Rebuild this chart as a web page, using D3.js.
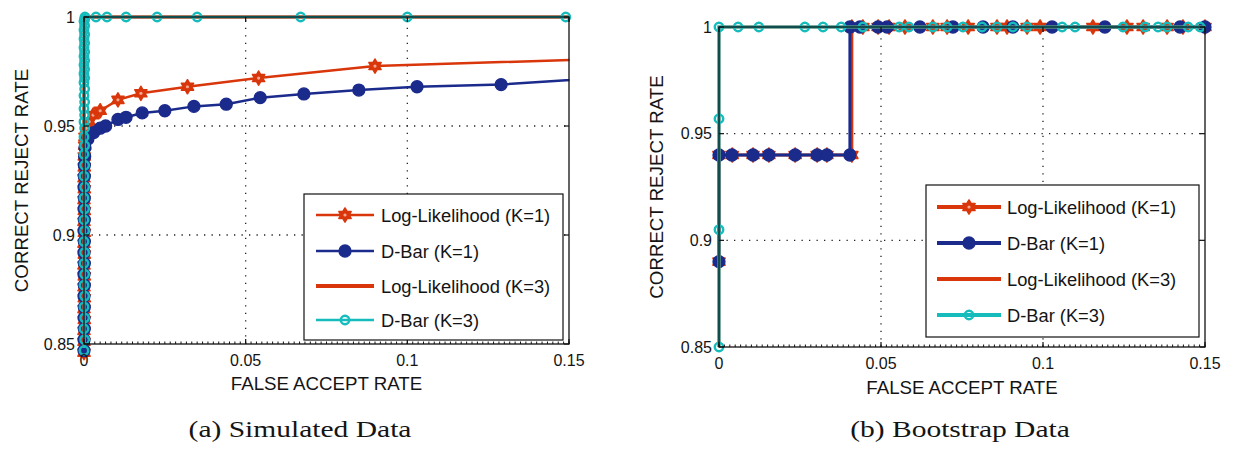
<!DOCTYPE html>
<html><head><meta charset="utf-8">
<script src="https://cdn.jsdelivr.net/npm/d3@7"></script>
<style>
html,body{margin:0;padding:0;background:#fff;}
svg{display:block;}
text{font-family:"Liberation Sans",Arial,sans-serif;fill:#141414;}
</style></head><body>
<svg id="fig" width="1238" height="457"></svg>
<script>
// ---------- values ----------
const xTicks = [0, 0.05, 0.1, 0.15];
const yTicks = [0.85, 0.9, 0.95, 1];
const xTickLabels = ["0", "0.05", "0.1", "0.15"];
const yTickLabels = ["0.85", "0.9", "0.95", "1"];
const seriesNames = ["Log-Likelihood (K=1)", "D-Bar (K=1)", "Log-Likelihood (K=3)", "D-Bar (K=3)"];
const captions = ["(a) Simulated Data", "(b) Bootstrap Data"];
const xTitle = "FALSE ACCEPT RATE";
const yTitle = "CORRECT REJECT RATE";

// (a) simulated data: [false accept rate, correct reject rate]
const simLL1 = [[0,0.846],[0,0.851],[0,0.856],[0.0001,0.861],[0,0.866],[0.0001,0.871],[0,0.876],[0.0001,0.881],
  [0,0.886],[0.0001,0.891],[0,0.896],[0.0001,0.901],[0,0.906],[0.0001,0.911],[0,0.916],[0.0001,0.921],[0,0.926],
  [0.0001,0.931],[0.0001,0.936],[0.0002,0.941],[0.0003,0.945],[0.0008,0.949],[0.0016,0.952],[0.0028,0.955],
  [0.005,0.957],[0.0105,0.962],[0.0176,0.965],[0.032,0.968],[0.054,0.972],[0.090,0.9775],[0.17,0.9812]];
const simDB1 = [[0,0.847],[0,0.852],[0.0001,0.857],[0,0.862],[0.0001,0.867],[0,0.872],[0.0001,0.877],[0,0.882],
  [0.0001,0.887],[0,0.892],[0.0001,0.897],[0,0.902],[0.0001,0.907],[0,0.912],[0.0001,0.917],[0,0.922],
  [0.0001,0.927],[0.0001,0.932],[0.0002,0.936],[0.0003,0.940],[0.0012,0.944],[0.003,0.947],[0.005,0.949],
  [0.0067,0.950],[0.0105,0.953],[0.013,0.954],[0.018,0.956],[0.025,0.957],[0.034,0.959],[0.044,0.960],
  [0.0545,0.963],[0.068,0.9647],[0.085,0.9665],[0.103,0.968],[0.129,0.969],[0.165,0.9726]];
const simLL3 = [[0,0.84],[0,0.9],[0,0.96],[0.0001,1],[0.16,1]];
const simDB3 = [[0,0.847],[0.0002,0.852],[0,0.857],[0.0002,0.862],[0,0.867],[0.0002,0.872],[0,0.877],[0.0002,0.882],
  [0,0.887],[0.0002,0.892],[0,0.897],[0.0002,0.902],[0,0.907],[0.0002,0.912],[0,0.917],[0.0002,0.922],[0,0.927],
  [0.0002,0.932],[0,0.937],[0.0002,0.941],[0,0.945],[0.0002,0.949],[0,0.952],[0.0002,0.955],[0,0.958],
  [0.0002,0.961],[0,0.964],[0.0002,0.967],[0,0.970],[0.0002,0.972],[0,0.974],[0.0002,0.976],[0,0.978],
  [0.0002,0.980],[0,0.982],[0.0002,0.984],[0,0.986],[0.0002,0.988],[0,0.990],[0.0002,0.992],[0,0.994],
  [0.0002,0.996],[0,0.998],[0.0002,0.999],[0.0003,1],[0.0037,1],[0.0071,1],[0.013,1],[0.0226,1],[0.035,1],
  [0.067,1],[0.100,1],[0.149,1],[0.16,1]];

// (b) bootstrap data
const bootLL1 = [[0,0.89],[0,0.94],[0.0041,0.94],[0.0105,0.94],[0.0154,0.94],[0.0235,0.94],[0.0303,0.94],
  [0.0333,0.94],[0.041,0.94],[0.041,1],[0.0444,1],[0.0491,1],[0.0525,1],[0.0574,1],[0.066,1],[0.0704,1],
  [0.0769,1],[0.0858,1],[0.0889,1],[0.0951,1],[0.0991,1],[0.1154,1],[0.1259,1],[0.1309,1],[0.1383,1],
  [0.1432,1],[0.15,1]];
const bootDB1 = [[0,0.89],[0,0.94],[0.004,0.94],[0.0105,0.94],[0.0154,0.94],[0.0235,0.94],[0.0303,0.94],
  [0.0333,0.94],[0.0404,0.94],[0.0404,1],[0.0435,1],[0.0491,1],[0.0519,1],[0.062,1],[0.0722,1],[0.0815,1],
  [0.0907,1],[0.1028,1],[0.1191,1],[0.1423,1],[0.15,1]];
const bootLL3 = [[0,0.85],[0,0.95],[0,1],[0.16,1]];
const bootDB3 = [[0,0.85],[0,0.905],[0,0.957],[0,1],[0.0059,1],[0.0123,1],[0.0265,1],[0.0321,1],[0.0377,1],
  [0.0444,1],[0.0556,1],[0.0586,1],[0.066,1],[0.0704,1],[0.0753,1],[0.0812,1],[0.0858,1],[0.0907,1],
  [0.0951,1],[0.1059,1],[0.1099,1],[0.1247,1],[0.1315,1],[0.1355,1],[0.1383,1],[0.1448,1],[0.1485,1],[0.16,1]];

// ---------- styling ----------
const RED = "#d9360b", BLUE = "#1b2b8c", CYAN = "#16bcbc";
const seriesStyle = [
  {color: RED,  marker: "hex"},
  {color: BLUE, marker: "dot"},
  {color: RED,  marker: null},
  {color: CYAN, marker: "ring"}
];

const panels = [
  {data: [simLL1, simDB1, simLL3, simDB3], xr: [84, 569], yr: [344, 17], lw: [2.5, 2.5, 3.5, 2.5],
   legend: {x: 304, y: 194, w: 259, h: 146, rows: [215, 251, 286, 320], l0: 316, l1: 374, tx: 381, lw: [2.7, 2.7, 4, 2.7]},
   yTitleX: 21, xTitleY: 390, xTickY: 366, yTickX: 75, capX: 300},
  {data: [bootLL1, bootDB1, bootLL3, bootDB3], xr: [719, 1205], yr: [347, 27], lw: [3, 3, 3, 3],
   legend: {x: 926, y: 185, w: 273, h: 152, rows: [207, 243, 279, 315], l0: 937, l1: 1001, tx: 1007, lw: [4, 4, 4, 4]},
   yTitleX: 656, xTitleY: 394, xTickY: 369, yTickX: 712, capX: 960}
];

const svg = d3.select("#fig");

function hexagramPath(R) {
  const r = R / Math.sqrt(3), pts = [];
  for (let k = 0; k < 12; k++) {
    const a = (-90 + k * 30) * Math.PI / 180, rad = k % 2 === 0 ? R : r;
    pts.push([rad * Math.cos(a), rad * Math.sin(a)]);
  }
  return "M" + pts.map(p => p[0].toFixed(2) + "," + p[1].toFixed(2)).join("L") + "Z";
}
const HEX = hexagramPath(7);

function drawMarker(g, kind, color, x, y) {
  if (kind === "hex") {
    g.append("path").attr("d", HEX).attr("transform", `translate(${x},${y})`)
      .attr("fill", color).attr("stroke", color).attr("stroke-width", 1.6).attr("stroke-linejoin", "round");
    g.append("circle").attr("cx", x).attr("cy", y).attr("r", 1.6).attr("fill", "#f1a78d");
  } else if (kind === "dot") {
    g.append("circle").attr("cx", x).attr("cy", y).attr("r", 6)
      .attr("fill", color).attr("stroke", color).attr("stroke-width", 1.3);
  } else if (kind === "ring") {
    g.append("circle").attr("cx", x).attr("cy", y).attr("r", 4.2)
      .attr("fill", "none").attr("stroke", color).attr("stroke-width", 2.5);
  }
}

panels.forEach((p, pi) => {
  const x = d3.scaleLinear().domain([0, 0.15]).range(p.xr);
  const y = d3.scaleLinear().domain([0.85, 1]).range(p.yr);
  const g = svg.append("g");
  const [L, R] = p.xr, [B, T] = p.yr;

  // background
  g.append("rect").attr("x", L).attr("y", T).attr("width", R - L).attr("height", B - T).attr("fill", "#fff");

  // dotted grid
  const grid = g.append("g").attr("stroke", "#222").attr("stroke-width", 1.3).attr("stroke-dasharray", "1.3,6.2");
  xTicks.filter(v => v > 0 && v < 0.15).forEach(v =>
    grid.append("line").attr("x1", x(v)).attr("x2", x(v)).attr("y1", B).attr("y2", T));
  yTicks.filter(v => v > 0.85 && v < 1).forEach(v =>
    grid.append("line").attr("x1", L).attr("x2", R).attr("y1", y(v)).attr("y2", y(v)));

  // line clipping region
  const cid = "clip" + pi;
  svg.append("clipPath").attr("id", cid).append("rect")
    .attr("x", L - 4).attr("y", T - 4).attr("width", R - L + 4.5).attr("height", B - T + 8);

  const lineGen = d3.line().x(d => x(d[0])).y(d => y(d[1]));
  p.data.forEach((series, si) => {
    const st = seriesStyle[si];
    g.append("path").attr("d", lineGen(series)).attr("fill", "none")
      .attr("stroke", st.color).attr("stroke-width", p.lw[si])
      .attr("stroke-linejoin", "miter").attr("clip-path", `url(#${cid})`);
    if (st.marker) {
      const mg = g.append("g");
      series.filter(d => d[0] >= 0 && d[0] <= 0.15 && d[1] >= 0.845 && d[1] <= 1)
        .forEach(d => drawMarker(mg, st.marker, st.color, x(d[0]), y(d[1])));
    }
  });

  // axes box, ticks
  const ax = g.append("g").attr("stroke", "#111").attr("fill", "none");
  ax.append("rect").attr("x", L).attr("y", T).attr("width", R - L).attr("height", B - T).attr("stroke-width", 1.3);
  xTicks.forEach(v => {
    ax.append("line").attr("x1", x(v)).attr("x2", x(v)).attr("y1", B).attr("y2", B - 5).attr("stroke-width", 1.2);
    ax.append("line").attr("x1", x(v)).attr("x2", x(v)).attr("y1", T).attr("y2", T + 5).attr("stroke-width", 1.2);
  });
  yTicks.forEach(v => {
    ax.append("line").attr("x1", L).attr("x2", L + 5).attr("y1", y(v)).attr("y2", y(v)).attr("stroke-width", 1.2);
    ax.append("line").attr("x1", R).attr("x2", R - 5).attr("y1", y(v)).attr("y2", y(v)).attr("stroke-width", 1.2);
  });
  // minor ticks along the bottom edge
  d3.range(0, 0.15 + 1e-9, 0.05 / 30).forEach(v =>
    ax.append("line").attr("x1", x(v)).attr("x2", x(v)).attr("y1", B).attr("y2", B - 2.5).attr("stroke-width", 1));

  // tick labels
  xTicks.forEach((v, i) =>
    g.append("text").attr("x", x(v)).attr("y", p.xTickY).attr("text-anchor", "middle")
      .attr("font-size", 16).text(xTickLabels[i]));
  yTicks.forEach((v, i) =>
    g.append("text").attr("x", p.yTickX).attr("y", y(v)).attr("dy", "0.36em").attr("text-anchor", "end")
      .attr("font-size", 16).text(yTickLabels[i]));

  // axis titles
  g.append("text").attr("x", (L + R) / 2).attr("y", p.xTitleY).attr("text-anchor", "middle")
    .attr("font-size", 18.7).text(xTitle);
  g.append("text").attr("transform", `translate(${p.yTitleX},${(T + B) / 2}) rotate(-90)`)
    .attr("text-anchor", "middle").attr("dy", "0.36em").attr("font-size", 18.7).text(yTitle);

  // legend
  const lg = p.legend, leg = g.append("g");
  leg.append("rect").attr("x", lg.x).attr("y", lg.y).attr("width", lg.w).attr("height", lg.h)
    .attr("fill", "#fff").attr("stroke", "#111").attr("stroke-width", 1.2);
  seriesNames.forEach((name, si) => {
    const st = seriesStyle[si], ry = lg.rows[si];
    leg.append("line").attr("x1", lg.l0).attr("x2", lg.l1).attr("y1", ry).attr("y2", ry)
      .attr("stroke", st.color).attr("stroke-width", lg.lw[si]);
    if (st.marker) drawMarker(leg, st.marker, st.color, (lg.l0 + lg.l1) / 2, ry);
    leg.append("text").attr("x", lg.tx).attr("y", ry).attr("dy", "0.36em").attr("font-size", 18.3).text(name);
  });

  // caption
  g.append("text").attr("transform", `translate(${p.capX},437) scale(1.23,1)`).attr("text-anchor", "middle")
    .style("font-family", '"Liberation Serif","Times New Roman",serif').attr("font-size", 24)
    .text(captions[pi]);
});
</script>
</body></html>
